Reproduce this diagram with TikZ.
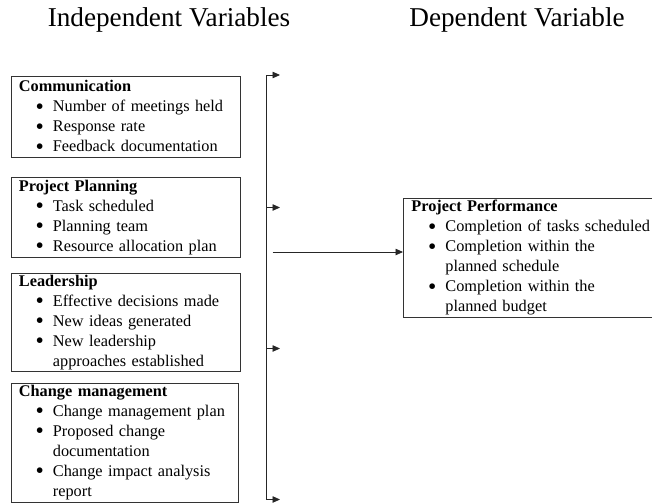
\documentclass[tikz,border=0pt]{standalone}
\usepackage{fontspec}
\setmainfont{Liberation Serif}
\usetikzlibrary{arrows.meta}

% bullet item: text indented, a large bullet hanging to its left
\newcommand\vitem[1]{\par\noindent\llap{\smash{\raisebox{-2.4pt}{\scalebox{1.45}{\textbullet}}}\hspace{9pt}}#1}

\begin{document}
\begin{tikzpicture}[x=1pt,y=-1pt,
  varbox/.style={draw=black!80, line width=0.8pt, anchor=north west,
    inner xsep=8pt, inner ysep=0pt, align=left,
    font=\fontsize{16.3}{20}\selectfont, text=black},
  heading/.style={font=\fontsize{27.2}{30}\selectfont, text=black},
  link/.style={draw=black!85, line width=0.8pt, -{Triangle[length=7.5pt,width=6.5pt]}}
]
\useasboundingbox (0,0) rectangle (652,503);

% headings
\node[heading] (indep) at (169,19.5) {Independent Variables};
\node[heading] (dep) at (517,19.5) {Dependent Variable};

% independent variable boxes
\node[varbox, text width=213pt, minimum height=81pt] (comm) at (10.5,75.5) {%
  \textbf{Communication}\par\leftskip=34pt
  \vitem{Number of meetings held}
  \vitem{Response rate}
  \vitem{Feedback documentation}\par};
\node[varbox, text width=213pt, minimum height=79.5pt] (plan) at (10.5,177) {%
  \textbf{Project Planning}\par\leftskip=34pt
  \vitem{Task scheduled}
  \vitem{Planning team}
  \vitem{Resource allocation plan}\par};
\node[varbox, text width=213pt, minimum height=98.5pt] (lead) at (10.5,272.5) {%
  \textbf{Leadership}\par\leftskip=34pt
  \vitem{Effective decisions made}
  \vitem{New ideas generated}
  \vitem{New leadership\\approaches established}\par};
\node[varbox, text width=211pt, minimum height=118.5pt] (chg) at (10.5,383) {%
  \textbf{Change management}\par\leftskip=34pt
  \vitem{Change management plan}
  \vitem{Proposed change\\documentation}
  \vitem{Change impact analysis\\report}\par};

% dependent variable box (runs past the right edge)
\node[varbox, text width=240pt, minimum height=118.5pt] (perf) at (403,198) {%
  \textbf{Project Performance}\par\leftskip=34pt
  \vitem{Completion of tasks scheduled}
  \vitem{Completion within the\\planned schedule}
  \vitem{Completion within the\\planned budget}\par};

% collecting bracket and its arrows
\coordinate (top) at (266,75);
\coordinate (bot) at (266,499.5);
\coordinate (a1) at (280,75);
\coordinate (a2) at (280,207.5);
\coordinate (a3) at (280,348.5);
\coordinate (a4) at (280,499.5);
\coordinate (mid2) at (266,207.5);
\coordinate (mid3) at (266,348.5);
\coordinate (src) at (272.5,252);

\draw[draw=black!85, line width=0.8pt] (top) -- (bot);
\draw[link] (top) -- (a1);
\draw[link] (mid2) -- (a2);
\draw[link] (mid3) -- (a3);
\draw[link] (bot) -- (a4);
\draw[link] (src) -- (perf.west |- src);
\end{tikzpicture}
\end{document}
